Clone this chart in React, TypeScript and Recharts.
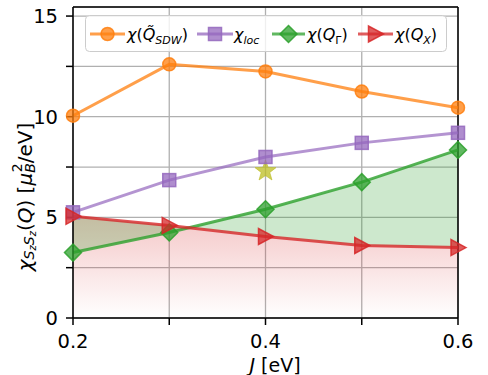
import React from "react";
import {
  ComposedChart,
  Line,
  Area,
  XAxis,
  YAxis,
  CartesianGrid,
  ReferenceLine,
  ReferenceDot,
  Legend,
} from "recharts";

const couplingJ = [0.2, 0.3, 0.4, 0.5, 0.6];
const chiSdw = [10.05, 12.6, 12.25, 11.25, 10.45];
const chiLoc = [5.25, 6.85, 8.0, 8.7, 9.2];
const chiGamma = [3.25, 4.25, 5.4, 6.75, 8.35];
const chiX = [5.05, 4.6, 4.05, 3.6, 3.5];
const starPoint = { j: 0.4, chi: 7.3 };

const xTicks = [0.2, 0.3, 0.4, 0.5, 0.6];
const xLabels = ["0.2", "", "0.4", "", "0.6"];
const yTicks = [0, 2.5, 5, 7.5, 10, 12.5, 15];
const yMax = 15.45;

const data = couplingJ.map((j, i) => ({
  j,
  sdw: chiSdw[i],
  loc: chiLoc[i],
  gamma: chiGamma[i],
  x: chiX[i],
}));

const FONT = "'DejaVu Sans', sans-serif";
const ORANGE = "#ff7f0e";
const PURPLE = "#9467bd";
const GREEN = "#2ca02c";
const RED = "#d62728";

type Kind = "circle" | "square" | "diamond" | "tri";

function Marker({ kind, cx, cy, color }: { kind: Kind; cx: number; cy: number; color: string }) {
  const common = { fill: color, stroke: color, strokeWidth: 1.5, fillOpacity: 0.75, strokeOpacity: 0.85 };
  if (kind === "circle") return <circle cx={cx} cy={cy} r={6.5} {...common} />;
  if (kind === "square") return <rect x={cx - 6.5} y={cy - 6.5} width={13} height={13} {...common} />;
  if (kind === "diamond")
    return <polygon points={`${cx},${cy - 8.5} ${cx + 8.5},${cy} ${cx},${cy + 8.5} ${cx - 8.5},${cy}`} {...common} />;
  return <polygon points={`${cx + 8},${cy} ${cx - 7},${cy - 8} ${cx - 7},${cy + 8}`} {...common} />;
}

const dotFor = (kind: Kind, color: string) => (p: any) => (
  <Marker key={`${kind}-${p.index}`} kind={kind} cx={p.cx} cy={p.cy} color={color} />
);

function Star({ cx, cy }: any) {
  const pts: string[] = [];
  for (let k = 0; k < 10; k++) {
    const r = k % 2 === 0 ? 11 : 4.5;
    const a = -Math.PI / 2 + (k * Math.PI) / 5;
    pts.push(`${cx + r * Math.cos(a)},${cy + r * Math.sin(a)}`);
  }
  return <polygon points={pts.join(" ")} fill="#bcbd22" fillOpacity={0.75} stroke="#bcbd22" strokeOpacity={0.6} />;
}

function LegendBox() {
  const cy = 19;
  const item = (x0: number, x1: number, kind: Kind, color: string) => (
    <g>
      <line x1={x0} y1={cy} x2={x1} y2={cy} stroke={color} strokeOpacity={0.75} strokeWidth={3} />
      <Marker kind={kind} cx={(x0 + x1) / 2} cy={cy} color={color} />
    </g>
  );
  const ts = { fontFamily: FONT, fontSize: 16, fill: "#000" };
  return (
    <svg width={363} height={38} style={{ display: "block" }}>
      <rect x={0.5} y={0.5} width={361} height={36} rx={4} fill="#fff" fillOpacity={0.8} stroke="#cccccc" />
      {item(5, 40, "circle", ORANGE)}
      <text x={42} y={cy + 6} {...ts}>
        <tspan fontStyle="italic">χ</tspan>(<tspan fontStyle="italic">Q̃</tspan>
        <tspan fontStyle="italic" fontSize={11} dy={4}>SDW</tspan>
        <tspan dy={-4}>)</tspan>
      </text>
      {item(112, 148, "square", PURPLE)}
      <text x={149} y={cy + 6} {...ts}>
        <tspan fontStyle="italic">χ</tspan>
        <tspan fontStyle="italic" fontSize={11} dy={4}>loc</tspan>
      </text>
      {item(187, 220, "diamond", GREEN)}
      <text x={222} y={cy + 6} {...ts}>
        <tspan fontStyle="italic">χ</tspan>(<tspan fontStyle="italic">Q</tspan>
        <tspan fontSize={11} dy={4}>Γ</tspan>
        <tspan dy={-4}>)</tspan>
      </text>
      {item(273, 308, "tri", RED)}
      <text x={310} y={cy + 6} {...ts}>
        <tspan fontStyle="italic">χ</tspan>(<tspan fontStyle="italic">Q</tspan>
        <tspan fontStyle="italic" fontSize={11} dy={4}>X</tspan>
        <tspan dy={-4}>)</tspan>
      </text>
    </svg>
  );
}

function YTitle() {
  const x = 25;
  const y = 197;
  return (
    <text
      x={x}
      y={y}
      transform={`rotate(-90 ${x} ${y})`}
      textAnchor="middle"
      dominantBaseline="central"
      fontFamily={FONT}
      fontSize={20}
      fill="#000"
    >
      <tspan fontStyle="italic">χ</tspan>
      <tspan fontStyle="italic" fontSize={14} dy={4}>S</tspan>
      <tspan fontStyle="italic" fontSize={10} dy={3}>z</tspan>
      <tspan fontStyle="italic" fontSize={14} dy={-3}>S</tspan>
      <tspan fontStyle="italic" fontSize={10} dy={3}>z</tspan>
      <tspan dy={-7}>(</tspan>
      <tspan fontStyle="italic">Q</tspan>
      <tspan>) [</tspan>
      <tspan fontStyle="italic">μ</tspan>
      <tspan fontStyle="italic" fontSize={14} dy={5}>B</tspan>
      <tspan fontSize={14} dy={-13} dx={-9}>2</tspan>
      <tspan dy={8}>/eV]</tspan>
    </text>
  );
}

function XTitle() {
  return (
    <text x={275} y={372} textAnchor="middle" fontFamily={FONT} fontSize={19} fill="#000">
      <tspan fontStyle="italic">J</tspan> [eV]
    </text>
  );
}

export default function App() {
  return (
    <div style={{ position: "absolute", left: 0, top: 0, background: "#fff" }}>
      <ComposedChart width={488} height={375} data={data} margin={{ top: 7, right: 30, left: 0, bottom: 0 }}>
        <defs>
          <linearGradient id="redFade" x1="0" y1="0" x2="0" y2="1">
            <stop offset="0%" stopColor={RED} stopOpacity={0.26} />
            <stop offset="100%" stopColor={RED} stopOpacity={0.0} />
          </linearGradient>
        </defs>
        <CartesianGrid stroke="#b0b0b0" strokeWidth={1.3} />
        <XAxis
          dataKey="j"
          type="number"
          domain={[0.2, 0.6]}
          ticks={xTicks}
          tickFormatter={(v: number) => xLabels[xTicks.findIndex((t) => Math.abs(t - v) < 1e-6)] ?? ""}
          height={57}
          stroke="#000"
          strokeWidth={1.5}
          tickSize={7}
          tickMargin={9}
          tick={{ fill: "#000", fontSize: 19.5, fontFamily: FONT }}
          label={<XTitle />}
        />
        <YAxis
          type="number"
          domain={[0, yMax]}
          ticks={yTicks}
          tickFormatter={(v: number) => (v % 5 === 0 ? String(v) : "")}
          width={73}
          stroke="#000"
          strokeWidth={1.5}
          tickSize={7}
          tickMargin={8}
          tick={{ fill: "#000", fontSize: 19.5, fontFamily: FONT }}
          label={<YTitle />}
        />
        <ReferenceLine y={yMax} stroke="#000" strokeWidth={1.5} />
        <ReferenceLine x={0.6} stroke="#000" strokeWidth={1.5} />
        <Area
          dataKey="x"
          baseValue={0}
          stroke="none"
          fill="url(#redFade)"
          fillOpacity={1}
          isAnimationActive={false}
          legendType="none"
        />
        <Area
          dataKey={(d: any) => [d.x, d.gamma]}
          stroke="none"
          fill={GREEN}
          fillOpacity={0.24}
          isAnimationActive={false}
          legendType="none"
        />
        <Line dataKey="sdw" stroke={ORANGE} strokeOpacity={0.75} strokeWidth={3} dot={dotFor("circle", ORANGE)} isAnimationActive={false} />
        <Line dataKey="loc" stroke={PURPLE} strokeOpacity={0.7} strokeWidth={3} dot={dotFor("square", PURPLE)} isAnimationActive={false} />
        <Line dataKey="gamma" stroke={GREEN} strokeOpacity={0.8} strokeWidth={3} dot={dotFor("diamond", GREEN)} isAnimationActive={false} />
        <Line dataKey="x" stroke={RED} strokeOpacity={0.8} strokeWidth={3} dot={dotFor("tri", RED)} isAnimationActive={false} />
        <ReferenceDot x={starPoint.j} y={starPoint.chi} shape={<Star />} ifOverflow="visible" />
        <Legend
          layout="horizontal"
          verticalAlign="middle"
          align="center"
          content={() => <LegendBox />}
          wrapperStyle={{ position: "absolute", left: 85, top: 15, width: 363, height: 38 }}
        />
      </ComposedChart>
    </div>
  );
}
